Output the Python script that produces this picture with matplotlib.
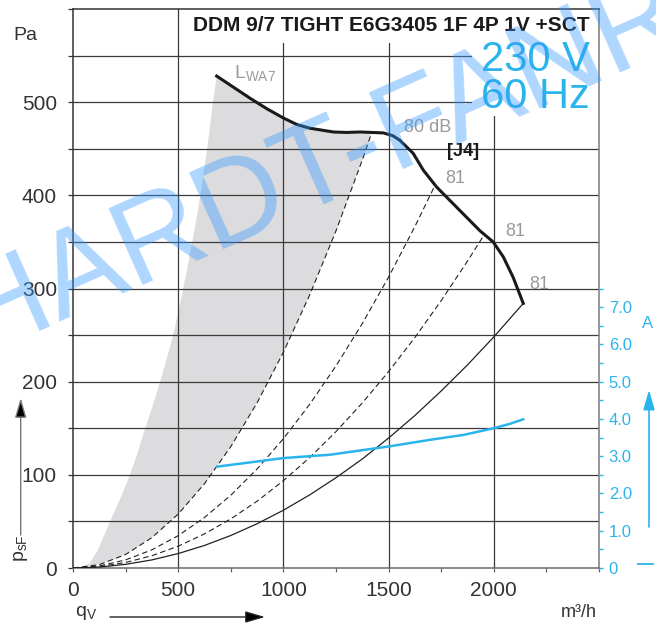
import numpy as np
import matplotlib as mpl
mpl.use('agg')
import matplotlib.pyplot as plt
from matplotlib.patches import Rectangle, Polygon
from matplotlib.lines import Line2D
from matplotlib.ticker import MultipleLocator, FixedLocator

plt.rcParams['font.family'] = ['Liberation Sans', 'DejaVu Sans']
plt.rcParams['mathtext.fontset'] = 'custom'
plt.rcParams['mathtext.rm'] = 'Liberation Sans'
plt.rcParams['mathtext.it'] = 'Liberation Sans'

BLUE = '#2ab4ec'
GREY_TXT = '#9a9a9a'
DARK = '#333333'
GRID = '#3a3a3a'

# fan curve [J4]  (q in m3/h, p in Pa)
fan_q = [683, 763, 843, 921, 1000, 1064, 1127, 1237, 1300, 1364, 1420, 1475, 1520, 1554,
         1617, 1665, 1728, 1776, 1855, 1934, 1997, 2045, 2092, 2140]
fan_p = [528, 516, 504, 493, 483, 476, 472, 468, 467.5, 468, 467.5, 467, 464, 459,
         445, 427, 409, 398, 380, 362, 350, 334, 312, 284]

# system curves (dashed ones end on the fan curve at the dB points)
sys1_q = [0, 125, 250, 375, 500, 625, 750, 875, 1000, 1125, 1250, 1375, 1420]
sys1_p = [0, 3.6, 14.5, 32.6, 57.9, 90.5, 130.3, 177.3, 231.6, 293.1, 361.9, 437.9, 467.5]
sys2_q = [0, 125, 250, 375, 500, 625, 750, 875, 1000, 1125, 1250, 1375, 1500, 1625, 1721]
sys2_p = [0, 2.2, 8.7, 19.5, 34.7, 54.2, 78.1, 106.3, 138.8, 175.7, 216.9, 262.4, 312.3, 366.5, 411]
sys3_q = [0, 125, 250, 375, 500, 625, 750, 875, 1000, 1125, 1250, 1375, 1500, 1625, 1750, 1875, 1955]
sys3_p = [0, 1.5, 5.9, 13.2, 23.4, 36.6, 52.7, 71.7, 93.7, 118.6, 146.4, 177.2, 210.8, 247.4, 287, 329.4, 358]
sys4_q = [0, 125, 250, 375, 500, 625, 750, 875, 1000, 1125, 1250, 1375, 1500, 1625, 1750, 1875, 2000, 2140]
sys4_p = [0, 1.0, 3.9, 8.7, 15.5, 24.2, 34.9, 47.5, 62, 78.5, 96.9, 117, 139.5, 163.7, 190, 218, 248, 284]

# left edge of the grey LWA7 area
edge_q = [33, 80, 120, 176, 226, 271, 309, 343, 380, 414, 446, 476, 501, 524, 546, 567, 587, 605, 638, 665, 683]
edge_p = [0, 5, 20, 50, 75, 100, 125, 150, 175, 200, 225, 250, 275, 300, 325, 350, 375, 400, 450, 500, 528]

# current (A)
cur_q = [686, 1000, 1222, 1499, 1697, 1855, 2000, 2077, 2140]
cur_a = [2.72, 2.95, 3.04, 3.26, 3.44, 3.57, 3.75, 3.87, 3.99]

db_labels = ['80 dB', '81', '81', '81']

W, H = 656, 627
fig = plt.figure(figsize=(W / 100, H / 100), dpi=100)
ax = fig.add_axes([73 / W, 59 / H, 526 / W, 559 / H])
ax.set_xlim(0, 2500)
ax.set_ylim(0, 600)

# grid
for y in range(50, 600, 50):
    ax.axhline(y, color=GRID, lw=0.9, zorder=1)
for x in range(500, 2500, 500):
    ax.axvline(x, color=GRID, lw=0.9, zorder=1)

# white boxes behind title and voltage text
ax.add_patch(Rectangle((530, 564), 1970, 36, facecolor='white', edgecolor='none', zorder=2))
ax.add_patch(Rectangle((1896, 485), 604, 80, facecolor='white', edgecolor='none', zorder=2))

# grey area
top_q = [q for q in fan_q if q <= 1420]
top_p = fan_p[:len(top_q)]
poly_q = edge_q + top_q[1:] + sys1_q[::-1]
poly_p = edge_p + top_p[1:] + sys1_p[::-1]
ax.add_patch(Polygon(np.column_stack([poly_q, poly_p]), closed=True,
                     facecolor='#dcdcde', edgecolor='none', zorder=0.5))

dash = (0, (5, 3))
ax.plot(sys1_q, sys1_p, color='#222222', lw=0.8, ls=dash, zorder=3)
ax.plot(sys2_q, sys2_p, color='#222222', lw=0.8, ls=dash, zorder=3)
ax.plot(sys3_q, sys3_p, color='#222222', lw=0.8, ls=dash, zorder=3)
ax.plot(sys4_q, sys4_p, color='#222222', lw=0.9, zorder=3)
ax.plot(fan_q, fan_p, color='#1a1a1a', lw=2.2, zorder=4, solid_joinstyle='round')

# axes styling
ax.spines['left'].set_color(DARK)
ax.spines['top'].set_color(DARK)
ax.spines['right'].set_color('#7a7a7a')
ax.spines['bottom'].set_color('#6a6a6a')
for s in ax.spines.values():
    s.set_linewidth(1.1)
ax.xaxis.set_minor_locator(MultipleLocator(250))
ax.set_xticks([0, 500, 1000, 1500, 2000])
ax.yaxis.set_minor_locator(MultipleLocator(50))
ax.set_yticks([0, 100, 200, 300, 400, 500])
ax.tick_params(axis='x', which='both', direction='out', length=3, width=0.9, color='#666666',
               labelsize=15, labelcolor=DARK, pad=6)
ax.tick_params(axis='y', which='both', direction='out', length=3.6, width=0.9, color=DARK,
               labelsize=15, labelcolor=DARK, pad=8)

# current axis
ax2 = ax.twinx()
ax2.set_ylim(0, 15)
ax2.plot(cur_q, cur_a, color=BLUE, lw=1.8, zorder=5)
ax2.yaxis.set_major_locator(FixedLocator([0, 1, 2, 3, 4, 5, 6, 7]))
ax2.yaxis.set_minor_locator(FixedLocator(np.arange(0.5, 8, 1.0)))
ax2.set_yticklabels(['0'] + ['%.1f' % v for v in range(1, 8)])
ax2.tick_params(axis='y', which='both', direction='out', length=3, width=1.0, color=BLUE,
                labelsize=12, labelcolor=BLUE, pad=4)
for s in ax2.spines.values():
    s.set_visible(False)

# texts inside the chart
ax.text(2456, 576, 'DDM 9/7 TIGHT E6G3405 1F 4P 1V +SCT', ha='right', va='baseline',
        fontsize=15, fontweight='bold', color='#1a1a1a', zorder=6)
ax.text(2456, 533, '230 V', ha='right', va='baseline', fontsize=30, color=BLUE, zorder=6)
ax.text(2456, 494, '60 Hz', ha='right', va='baseline', fontsize=30, color=BLUE, zorder=6)
ax.text(766, 526, r'$\mathregular{L_{WA7}}$', ha='left', va='baseline', fontsize=14,
        color=GREY_TXT, zorder=6)
ax.text(1687, 473, db_labels[0], ha='center', va='center', fontsize=13, color=GREY_TXT, zorder=6)
ax.text(1853, 447, '[J4]', ha='center', va='center', fontsize=13, fontweight='bold',
        color='#1a1a1a', zorder=6)
ax.text(1815, 418, db_labels[1], ha='center', va='center', fontsize=13, color=GREY_TXT, zorder=6)
ax.text(2100, 361, db_labels[2], ha='center', va='center', fontsize=13, color=GREY_TXT, zorder=6)
ax.text(2214, 304, db_labels[3], ha='center', va='center', fontsize=13, color=GREY_TXT, zorder=6)


def px(x, y):
    return x / W, 1 - y / H


# outer labels
fig.text(*px(25, 35), 'Pa', ha='center', va='center', fontsize=14, color=DARK)
fig.text(*px(21, 548), r'$\mathregular{p_{sF}}$', ha='center', va='center', fontsize=14,
         color=DARK, rotation=90)
fig.text(*px(86, 613), r'$\mathregular{q_V}$', ha='center', va='center', fontsize=14, color=DARK)
fig.text(*px(597, 617), 'm³/h', ha='right', va='baseline', fontsize=13, color=DARK)
fig.text(*px(648, 324), 'A', ha='center', va='center', fontsize=12, color=BLUE)

arrow_kw = dict(xycoords='figure fraction', textcoords='figure fraction')
ax.annotate('', xy=px(20.7, 398), xytext=px(20.7, 535), annotation_clip=False,
            arrowprops=dict(arrowstyle='-|>,head_length=1.2,head_width=0.35',
                            ec='#777777', fc='black', lw=1.0, shrinkA=0, shrinkB=0), **arrow_kw)
ax.annotate('', xy=px(265, 617), xytext=px(110, 617), annotation_clip=False,
            arrowprops=dict(arrowstyle='-|>,head_length=1.2,head_width=0.35',
                            ec='#222222', fc='black', lw=1.0, shrinkA=0, shrinkB=0), **arrow_kw)
ax.annotate('', xy=px(649, 390), xytext=px(649, 527), annotation_clip=False,
            arrowprops=dict(arrowstyle='-|>,head_length=1.2,head_width=0.35',
                            ec=BLUE, fc=BLUE, lw=1.2, shrinkA=0, shrinkB=0), **arrow_kw)
fig.add_artist(Line2D([638 / W, 653 / W], [1 - 564 / H] * 2, color=BLUE, lw=1.3))

# watermark (runs off the edges in the original too)
fig.text(*px(322, 166), 'HARDT-FANR', ha='center', va='center', rotation=24,
         rotation_mode='anchor', fontsize=88, color=(0.2, 0.6, 1.0), alpha=0.4, zorder=10)

fig.savefig('out.png', dpi=100)
